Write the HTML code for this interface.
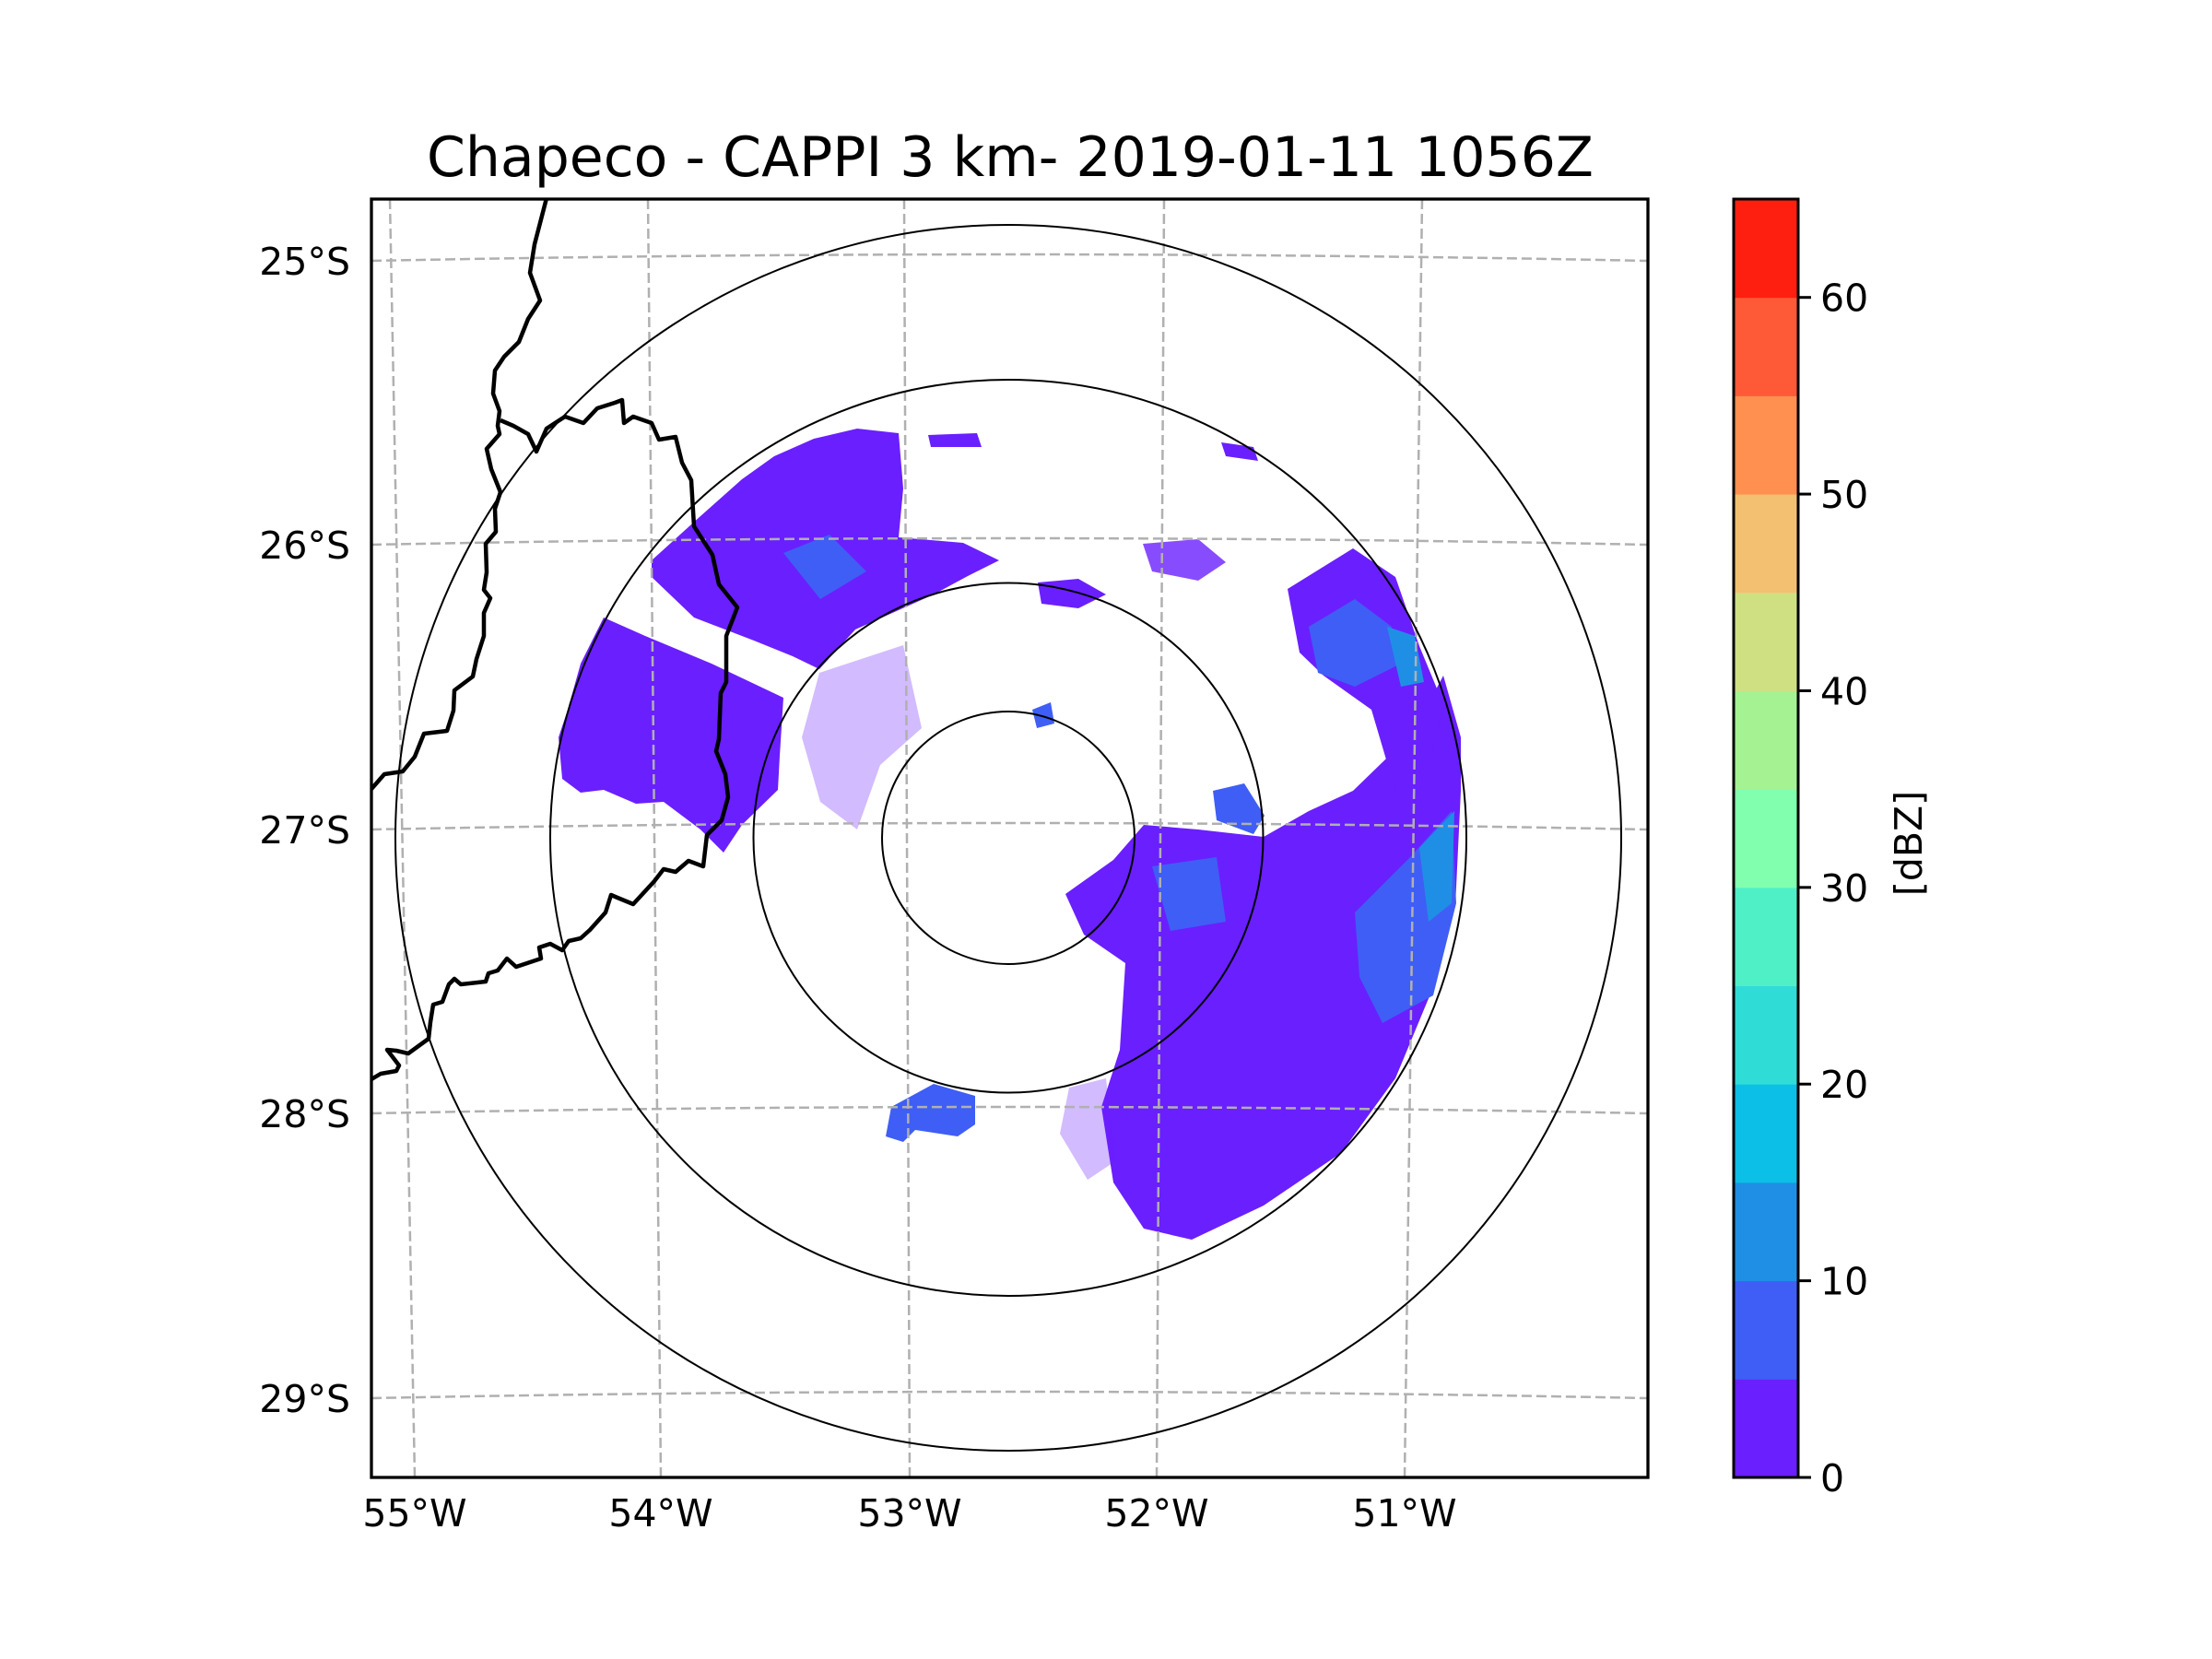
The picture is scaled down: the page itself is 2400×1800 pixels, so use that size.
<!DOCTYPE html>
<html><head><meta charset="utf-8"><style>
html,body{margin:0;padding:0;background:#fff;}
svg{display:block;font-family:"DejaVu Sans","Liberation Sans",sans-serif;}
</style></head><body>
<svg id="fig" width="2400" height="1800" viewBox="0 0 2400 1800" xmlns="http://www.w3.org/2000/svg">
<text x="1096" y="191" font-size="60" text-anchor="middle">Chapeco - CAPPI 3 km- 2019-01-11 1056Z</text>
<defs><clipPath id="axclip"><rect x="403" y="216" width="1385" height="1387"/></clipPath></defs>
<g id="plot" clip-path="url(#axclip)">
 <g fill="#6a1fff">
  <path d="M655,670 L700,690 772,720 850,757 846,820 844,857 805,895 785,925 760,900 720,870 690,872 655,857 630,860 610,845 606,800 616,770 630,720 Z"/>
  <path d="M707,608 L760,560 805,520 840,495 883,476 930,465 975,470 980,530 975,583 1045,589 1084,608 1050,625 1013,645 928,683 889,726 860,712 818,695 753,670 707,626 Z"/>
  <path d="M1241,895 L1300,900 1371,908 1420,880 1468,858 1533,795 1566,733 1585,800 1585,858 1579,983 1553,1076 1514,1170 1455,1251 1371,1308 1293,1345 1241,1333 1208,1283 1195,1201 1215,1139 1221,1045 1176,1014 1156,970 1208,933 Z"/>
  <path d="M1397,639 L1468,595 1514,626 1540,701 1566,764 1553,826 1514,858 1488,770 1436,733 1410,708 Z"/>
  <path fill="#3f5ef5" d="M967,1201 L1013,1176 1058,1189 1058,1220 1039,1233 993,1226 980,1239 961,1233 Z"/>
  <path opacity="0.3" d="M889,730 L980,700 1000,790 955,830 930,900 890,870 870,800 Z"/>
  <path d="M1007,472 L1060,470 1065,485 1010,485 Z"/>
  <path d="M1126,632 L1170,628 1200,645 1170,660 1130,655 Z"/>
  <path opacity="0.8" d="M1240,590 L1300,585 1330,610 1300,630 1250,620 Z"/>
  <path d="M1325,480 L1360,485 1365,500 1330,495 Z"/>
  <path fill="#3f5ef5" d="M1120,770 L1140,762 1144,785 1125,790 Z"/>
  <path fill="#3f5ef5" d="M1316,858 L1350,850 1372,885 1360,905 1320,890 Z"/>
  <path opacity="0.3" d="M1160,1180 L1200,1170 1210,1260 1180,1280 1150,1230 Z"/>
 </g>
 <g>
  <path fill="#3f5ef5" d="M1420,680 L1470,650 1510,680 1520,720 1470,745 1430,730 Z"/>
  <path fill="#1f8fe6" d="M1505,680 L1535,690 1545,740 1520,745 Z"/>
  <path fill="#3f5ef5" d="M1470,990 L1530,930 1575,880 1580,980 1555,1080 1500,1110 1475,1060 Z"/>
  <path fill="#1f8fe6" d="M1540,920 L1578,880 1575,980 1550,1000 Z"/>
  <path fill="#3f5ef5" d="M850,600 L900,580 940,620 890,650 Z"/>
  <path fill="#3f5ef5" d="M1250,940 L1320,930 1330,1000 1270,1010 Z"/>
 </g>
 <g id="grid" fill="none" stroke="#b0b0b0" stroke-width="2.5" stroke-dasharray="11,5"></g>
 <g id="rings" fill="none" stroke="#000" stroke-width="2"></g>
 <g fill="none" stroke="#000" stroke-width="4.5" stroke-linejoin="round">
  <path d="M593,215 L580,265 575,296 586,326 573,346 563,371 547,387 537,402 535,427 542,446 540,462 542,471 528,487 533,509 543,534 537,552 538,577 527,590 528,621 525,640 532,649 525,665 525,690 517,715 513,734 493,749 492,771 485,793 460,796 450,821 437,837 417,840 403,856"/>
  <path d="M543,456 L557,462 573,471 582,490 593,465 613,452 633,459 648,443 667,437 675,434 677,459 687,452 707,459 715,477 733,474 740,502 750,521 753,571 773,602 780,634 800,659 788,690 788,740 782,752 780,802 777,815 787,840 790,865 783,890 767,906 763,940 747,934 733,946 720,943 710,956 687,981 670,974 663,971 657,990 640,1009 630,1018 617,1021 610,1031 597,1024 585,1028 587,1040 560,1049 550,1040 540,1053 530,1056 527,1065 500,1068 493,1062 487,1068 480,1087 470,1090 467,1109 465,1127 443,1143 430,1140 420,1139 433,1156 430,1162 413,1165 403,1171"/>
 </g>
</g>
<rect x="403" y="216" width="1385" height="1387" fill="none" stroke="#000" stroke-width="3.3"/>
<g id="latlabels" font-size="41" text-anchor="end"></g>
<g id="lonlabels" font-size="41" text-anchor="middle"></g>
<g id="cbar"></g>
<text x="2074" y="915" font-size="41" text-anchor="middle" transform="rotate(-90 2074 915)" dominant-baseline="middle">[dBZ]</text>
</svg>
<script>
const latValues = ["25°S","26°S","27°S","28°S","29°S"];
const latY = [283, 591, 900, 1208, 1517];
const lonValues = ["55°W","54°W","53°W","52°W","51°W"];
const lonTopX = [423, 703, 981, 1263, 1543];
const lonBotX = [450, 717, 987, 1255, 1524];
const cbarLevels = [0,5,10,15,20,25,30,35,40,45,50,55,60,65];
const cbarColors = ["#6a1fff","#3f5ef5","#1f8fe6","#0cbfe6","#2fdcd6","#4ff0c6","#82ffae","#a4f292","#cfe083","#f2c070","#ff9050","#ff5a38","#ff1f10"];
const cbarTicks = [0,10,20,30,40,50,60];
const ringRadii = [137, 276.5, 497, 665];
const NS = "http://www.w3.org/2000/svg";
function mk(tag, attrs, parent){const e=document.createElementNS(NS,tag);for(const k in attrs)e.setAttribute(k,attrs[k]);parent.appendChild(e);return e;}
const grid=document.getElementById('grid');
latY.forEach((y,i)=>{
 const p=mk('path',{d:`M403,${y} Q1095,${y-14} 1788,${y}`},grid);
 
 
});
lonTopX.forEach((x,i)=>{
 const p=mk('line',{x1:x,y1:216,x2:lonBotX[i],y2:1603},grid);
 
 
});
const rings=document.getElementById('rings');
ringRadii.forEach(r=>{
 const c=mk('circle',{cx:1094,cy:909,r:r},rings);
 
 
});
const latG=document.getElementById('latlabels');
latValues.forEach((t,i)=>{
 const e=mk('text',{x:380,y:latY[i]+15},latG);e.textContent=t;
 
 
});
const lonG=document.getElementById('lonlabels');
lonValues.forEach((t,i)=>{
 const e=mk('text',{x:lonBotX[i],y:1656},lonG);e.textContent=t;
 
 
});
const cb=document.getElementById('cbar');
const cx0=1881,cw=70,cyTop=216,cyBot=1603;
const vmin=cbarLevels[0],vmax=cbarLevels[cbarLevels.length-1];
const yOf=v=>cyBot-(v-vmin)/(vmax-vmin)*(cyBot-cyTop);
cbarColors.forEach((col,i)=>{
 const y1=yOf(cbarLevels[i+1]),y0=yOf(cbarLevels[i]);
 const r=mk('rect',{x:cx0,y:y1,width:cw,height:y0-y1+0.5,fill:col},cb);
 
 
});
mk('rect',{x:cx0,y:cyTop,width:cw,height:cyBot-cyTop,fill:'none',stroke:'#000','stroke-width':3},cb);
cbarTicks.forEach(v=>{
 const y=yOf(v);
 mk('line',{x1:cx0+cw,y1:y,x2:cx0+cw+14,y2:y,stroke:'#000','stroke-width':3},cb);
 const t=mk('text',{x:cx0+cw+24,y:y+15,'font-size':41},cb);t.textContent=v;
 
 
});
</script>
</body></html>
